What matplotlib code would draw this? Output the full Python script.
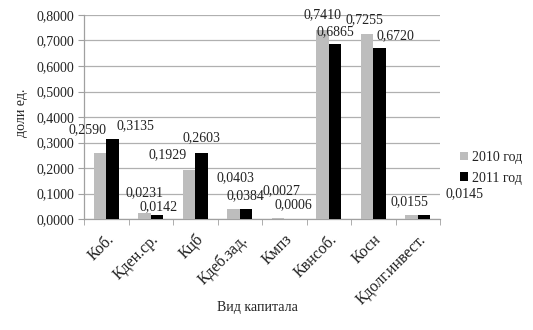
import matplotlib.pyplot as plt
import numpy as np

plt.rcParams['font.family'] = ['Liberation Serif', 'DejaVu Serif']

categories = ['Коб.', 'Кден.ср.', 'Кцб', 'Кдеб.зад.', 'Кмпз', 'Квнсоб.', 'Косн', 'Кдолг.инвест.']
y_2010 = [0.2590, 0.0231, 0.1929, 0.0403, 0.0027, 0.7410, 0.7255, 0.0155]
y_2011 = [0.3135, 0.0142, 0.2603, 0.0384, 0.0006, 0.6865, 0.6720, 0.0145]
series_names = ['2010 год', '2011 год']

# label offsets in pixels (dx, dy) relative to the bar top, as Excel placed them
off_2010 = [(-13, 23), (0, 20), (-21, 15), (2, 31), (3, 28), (0, 15), (-3, 14), (-2, 13)]
off_2011 = [(23, 13), (2, 9), (0, 15), (-1, 14), (3, 14), (0, 12), (16, 12), (41, 22)]

bar_width = 0.28
text_color = '#222222'


def fmt(v):
    return ('%.4f' % v).replace('.', ',')


fig = plt.figure(figsize=(5.33, 3.30), dpi=100)
ax = fig.add_axes([84 / 533, 1 - 219 / 330, 356 / 533, 204 / 330])

x = np.arange(len(categories))
ax.bar(x - bar_width / 2, y_2010, width=bar_width, color='#bdbdbd', label=series_names[0], zorder=3)
ax.bar(x + bar_width / 2, y_2011, width=bar_width, color='black', label=series_names[1], zorder=3)

for i, v in enumerate(y_2010):
    ax.annotate(fmt(v), (x[i] - bar_width / 2, v), xytext=off_2010[i], textcoords='offset pixels',
                ha='center', va='center', fontsize=10, color=text_color, zorder=4)
for i, v in enumerate(y_2011):
    ax.annotate(fmt(v), (x[i] + bar_width / 2, v), xytext=off_2011[i], textcoords='offset pixels',
                ha='center', va='center', fontsize=10, color=text_color, zorder=4)

ax.set_xlim(-0.5, len(categories) - 0.5)
ax.set_ylim(0, 0.8)
yt = np.arange(0, 0.81, 0.1)
ax.set_yticks(yt)
ax.set_yticklabels([fmt(t) for t in yt], fontsize=10, color=text_color)
ax.set_xticks(x)
ax.set_xticklabels(categories, rotation=45, ha='right', rotation_mode='anchor', fontsize=11.5, color=text_color)
ax.set_xticks(np.arange(-0.5, len(categories)), minor=True)
ax.tick_params(axis='x', which='major', length=0, pad=9)
ax.tick_params(axis='x', which='minor', length=4, color='#a0a0a0', direction='out')
ax.tick_params(axis='y', length=4, color='#a0a0a0', pad=3)

ax.grid(axis='y', color='#b0b0b0', linewidth=0.9, zorder=0)
for s in ['top', 'right']:
    ax.spines[s].set_visible(False)
for s in ['left', 'bottom']:
    ax.spines[s].set_color('#a0a0a0')
    ax.spines[s].set_linewidth(0.9)

ax.set_ylabel('доли ед.', fontsize=10, color=text_color)
ax.yaxis.set_label_coords(-(84 - 28) / 356, 0.52)
ax.set_xlabel('Вид капитала', fontsize=10, color=text_color, va='center')
ax.xaxis.set_label_coords((257 - 84) / 356, -(307 - 219) / 204)

fig.legend(loc='upper left', bbox_to_anchor=(453 / 533, 1 - 144 / 330), frameon=False, fontsize=10,
           handlelength=0.6, handleheight=0.6, handletextpad=0.3, labelspacing=0.55, borderpad=0,
           labelcolor=text_color)

fig.savefig('out.png', dpi=100)
